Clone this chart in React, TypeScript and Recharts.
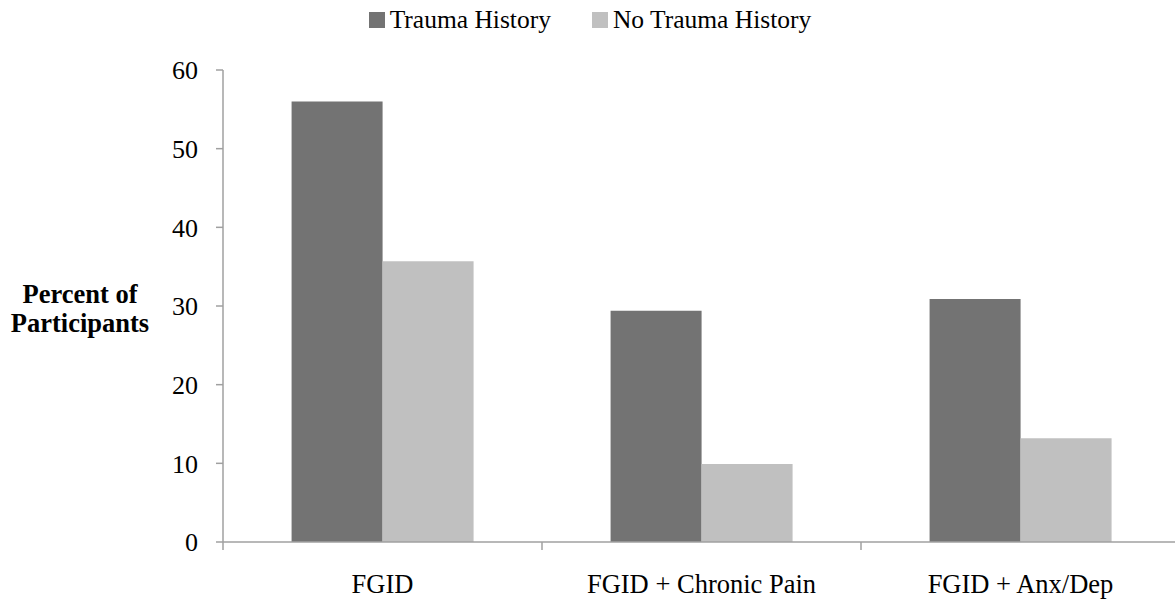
import { BarChart, Bar, XAxis, YAxis, Legend, Label } from 'recharts'

const categories = ['FGID', 'FGID + Chronic Pain', 'FGID + Anx/Dep']
const traumaHistory = [56, 29.4, 30.9]
const noTraumaHistory = [35.7, 9.9, 13.2]
const yTicks = [0, 10, 20, 30, 40, 50, 60]

const FONT = '"Liberation Serif", "Times New Roman", serif'
const DARK = '#737373'
const LIGHT = '#c0c0c0'
const AXIS = '#a0a0a0'

const data = categories.map((name, i) => ({
  name,
  trauma: traumaHistory[i],
  noTrauma: noTraumaHistory[i],
}))

const legendItems = [
  { label: 'Trauma History', color: DARK },
  { label: 'No Trauma History', color: LIGHT },
]

function ChartLegend() {
  return (
    <div
      style={{
        display: 'flex',
        justifyContent: 'center',
        gap: 41,
        fontFamily: FONT,
        fontSize: 25.5,
        color: '#000',
        lineHeight: 'normal',
      }}
    >
      {legendItems.map((item) => (
        <span key={item.label} style={{ whiteSpace: 'nowrap' }}>
          <span
            style={{
              display: 'inline-block',
              width: 16,
              height: 16,
              marginRight: 5,
              background: item.color,
            }}
          />
          {item.label}
        </span>
      ))}
    </div>
  )
}

// ticks sit between the categories, like the original spreadsheet chart
function CategoryTick(props: any) {
  const { x, y, payload, index } = props
  const half = payload?.offset ?? 0
  const last = index === categories.length - 1
  return (
    <g>
      <line x1={x - half} x2={x - half} y1={y} y2={y + 8} stroke={AXIS} strokeWidth={1.5} />
      {last && <line x1={x + half} x2={x + half} y1={y} y2={y + 8} stroke={AXIS} strokeWidth={1.5} />}
      <text x={x} y={y + 51} textAnchor="middle" fontFamily={FONT} fontSize={26.5} fill="#000">
        {payload.value}
      </text>
    </g>
  )
}

function YTitle(props: any) {
  const vb = props.viewBox ?? { x: 0, y: 0, width: 0, height: 0 }
  const cx = vb.x + 80
  const cy = vb.y + vb.height / 2
  return (
    <text textAnchor="middle" fontFamily={FONT} fontSize={26.5} fontWeight="bold" fill="#000">
      <tspan x={cx} y={cy - 3}>Percent of</tspan>
      <tspan x={cx} y={cy + 26}>Participants</tspan>
    </text>
  )
}

export default function App() {
  return (
    <div
      style={{
        position: 'fixed',
        left: 0,
        top: 0,
        width: 1175,
        height: 604,
        overflow: 'hidden',
        background: '#fff',
      }}
    >
      <BarChart
        width={1180}
        height={604}
        data={data}
        margin={{ top: 70, right: 0, bottom: 0, left: 0 }}
        barCategoryGap="21.5%"
        barGap={0}
      >
        <XAxis
          dataKey="name"
          height={62}
          tickSize={0}
          tickMargin={0}
          tickLine={false}
          axisLine={{ stroke: AXIS, strokeWidth: 1.5 }}
          tick={<CategoryTick />}
          interval={0}
        />
        <YAxis
          width={223}
          domain={[0, 60]}
          ticks={yTicks}
          interval={0}
          tickSize={7}
          tickMargin={18}
          axisLine={{ stroke: AXIS, strokeWidth: 1.5 }}
          tickLine={{ stroke: AXIS, strokeWidth: 1.5 }}
          tick={{ fontFamily: FONT, fontSize: 26, fill: '#000' }}
        >
          <Label content={<YTitle />} />
        </YAxis>
        <Legend
          verticalAlign="middle"
          align="center"
          layout="horizontal"
          content={<ChartLegend />}
          wrapperStyle={{ top: 5, left: 0, width: 1180 }}
        />
        <Bar dataKey="trauma" name="Trauma History" fill={DARK} isAnimationActive={false} />
        <Bar dataKey="noTrauma" name="No Trauma History" fill={LIGHT} isAnimationActive={false} />
      </BarChart>
    </div>
  )
}
